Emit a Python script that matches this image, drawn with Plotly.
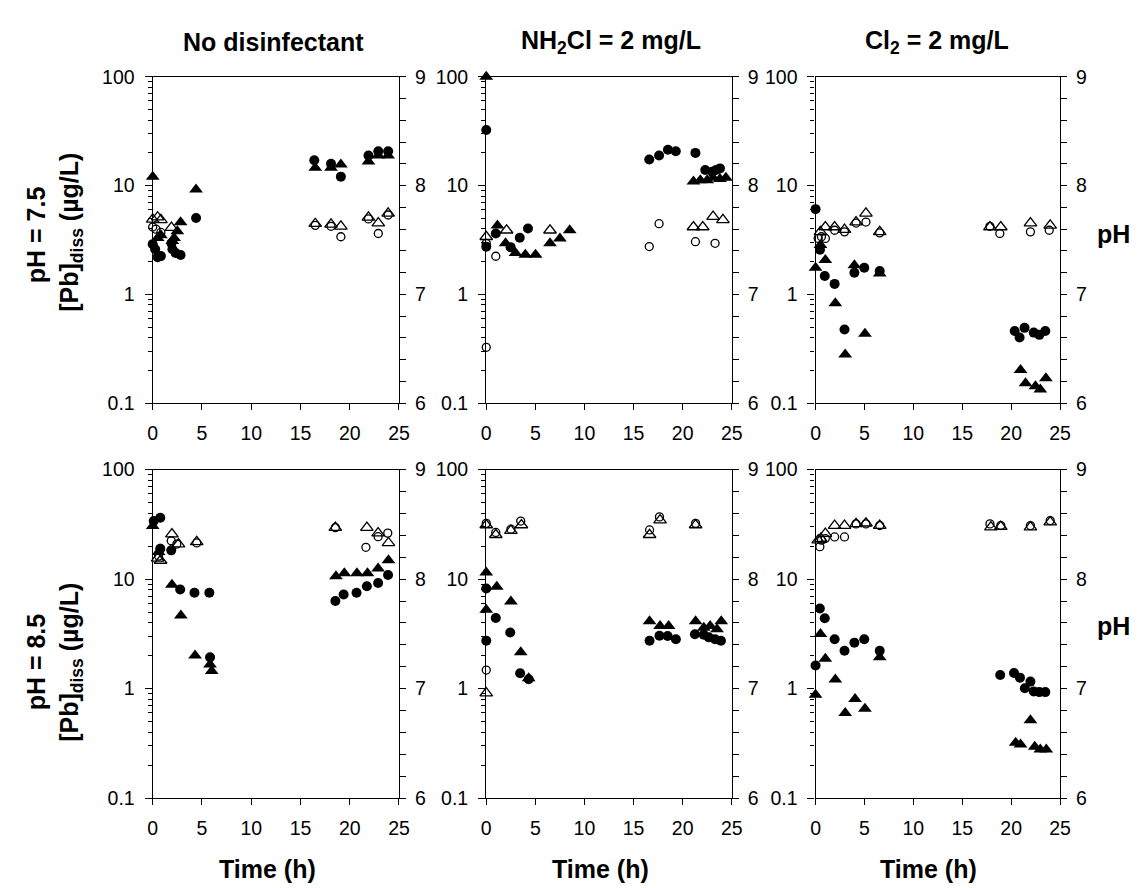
import plotly.graph_objects as go

W, H = 1138, 888

# ---------------- data ----------------
# Panel 1: No disinfectant, pH 7.5
p1_circ_t = [0, 0.25, 0.5, 0.83, 1.9, 2.0, 2.33, 2.83, 4.4, 16.4, 18.1, 19.1, 21.9, 22.9, 23.9]
p1_circ_pb = [2.9, 2.6, 2.2, 2.25, 2.95, 2.6, 2.4, 2.3, 5.05, 17.1, 15.9, 12.1, 18.9, 20.7, 20.7]
p1_tri_t = [0, 0.5, 0.83, 2.0, 2.17, 2.5, 2.83, 4.4, 16.5, 18.1, 19.1, 21.9, 22.9, 23.9]
p1_tri_pb = [12.1, 3.3, 3.5, 3.1, 3.3, 3.8, 4.6, 9.2, 14.6, 14.6, 15.6, 16.7, 18.9, 18.9]
p1_ocirc_t = [0, 0.33, 0.83, 16.5, 18.1, 19.1, 21.9, 22.9, 23.9]
p1_ocirc_ph = [7.62, 7.6, 7.57, 7.635, 7.626, 7.53, 7.694, 7.56, 7.73]
p1_otri_t = [0, 0.5, 0.83, 1.9, 16.5, 18.1, 19.1, 21.9, 22.9, 23.9]
p1_otri_ph = [7.69, 7.71, 7.685, 7.614, 7.65, 7.644, 7.626, 7.709, 7.655, 7.745]

# Panel 2: NH2Cl, pH 7.5
p2_circ_t = [0, 0, 0.97, 2.48, 3.41, 4.25, 16.6, 17.6, 18.5, 19.3, 21.3, 22.3, 23.0, 23.4, 23.8]
p2_circ_pb = [32.4, 2.75, 3.63, 2.72, 3.32, 4.03, 17.4, 18.9, 21.4, 20.7, 20.0, 13.9, 13.4, 13.9, 14.4]
p2_tri_t = [0, 1.14, 1.97, 2.98, 3.98, 5.02, 6.49, 7.5, 8.5, 21.1, 21.8, 22.5, 23.1, 23.8, 24.4]
p2_tri_pb = [100, 4.3, 2.95, 2.4, 2.32, 2.32, 2.95, 3.27, 3.9, 10.9, 11.2, 11.2, 11.8, 11.5, 11.8]
p2_ocirc_t = [0, 0, 0.97, 16.6, 17.6, 21.3, 23.3]
p2_ocirc_ph = [7.47, 6.514, 7.351, 7.44, 7.65, 7.485, 7.47]
p2_otri_t = [0, 2.07, 6.49, 21.1, 22.05, 23.1, 24.1]
p2_otri_ph = [7.53, 7.59, 7.59, 7.62, 7.62, 7.715, 7.685]

# Panel 3: Cl2, pH 7.5
p3_circ_t = [0, 0.45, 0.94, 1.95, 2.96, 3.97, 4.98, 6.56, 20.36, 20.86, 21.37, 22.31, 22.88, 23.49]
p3_circ_pb = [6.08, 2.57, 1.48, 1.25, 0.477, 1.58, 1.76, 1.64, 0.461, 0.402, 0.493, 0.446, 0.425, 0.461]
p3_tri_t = [0, 0.5, 1.0, 2.02, 3.03, 3.97, 5.05, 6.56, 20.96, 21.47, 22.48, 22.98, 23.55]
p3_tri_pb = [1.76, 2.85, 2.07, 0.83, 0.28, 1.85, 0.436, 1.56, 0.202, 0.153, 0.143, 0.134, 0.17]
p3_ocirc_t = [0.27, 0.6, 1.0, 1.95, 2.96, 4.14, 5.15, 6.56, 17.83, 18.84, 21.97, 23.89]
p3_ocirc_ph = [7.515, 7.53, 7.515, 7.59, 7.575, 7.656, 7.665, 7.566, 7.626, 7.56, 7.575, 7.59]
p3_otri_t = [0.5, 1.0, 1.95, 2.96, 4.14, 5.15, 6.56, 17.83, 18.94, 21.97, 23.99]
p3_otri_ph = [7.575, 7.62, 7.62, 7.596, 7.665, 7.745, 7.575, 7.62, 7.62, 7.655, 7.635]

# Panel 4: No disinfectant, pH 8.5
p4_circ_t = [0.1, 0.77, 0.77, 1.88, 2.79, 4.24, 5.75, 5.82, 18.54, 19.38, 20.69, 21.74, 22.88, 23.89]
p4_circ_pb = [33.9, 36.3, 18.9, 18.3, 8.03, 7.5, 7.5, 1.93, 6.3, 7.24, 7.5, 8.6, 9.2, 10.9]
p4_tri_t = [0, 0.6, 1.95, 2.86, 4.3, 5.82, 5.99, 18.6, 19.45, 20.73, 21.8, 22.88, 23.93]
p4_tri_pb = [30.6, 17.7, 8.9, 4.65, 2.01, 1.66, 1.45, 10.6, 11.3, 11.3, 11.3, 12.5, 14.9]
p4_ocirc_t = [0.6, 0.77, 1.88, 2.45, 4.47, 18.54, 21.64, 22.88, 23.86]
p4_ocirc_ph = [8.21, 8.28, 8.35, 8.32, 8.33, 8.47, 8.29, 8.387, 8.42]
p4_otri_t = [0.5, 0.8, 1.95, 2.62, 4.47, 18.54, 21.74, 22.88, 23.93]
p4_otri_ph = [8.19, 8.17, 8.41, 8.32, 8.34, 8.47, 8.47, 8.42, 8.33]

# Panel 5: NH2Cl, pH 8.5
p5_circ_t = [0, 0, 0.97, 2.44, 3.45, 4.32, 16.63, 17.64, 18.47, 19.31, 21.25, 22.15, 22.66, 23.3, 23.9]
p5_circ_pb = [8.2, 2.74, 4.42, 3.25, 1.38, 1.22, 2.74, 3.04, 3.03, 2.83, 3.14, 3.1, 2.94, 2.83, 2.74]
p5_tri_t = [0, 0, 1.07, 2.51, 3.51, 4.32, 16.63, 17.7, 18.57, 21.32, 22.15, 22.8, 23.5, 23.93]
p5_tri_pb = [11.5, 5.25, 8.5, 6.24, 2.15, 1.245, 4.13, 3.73, 3.73, 4.13, 3.6, 3.73, 3.49, 4.13]
p5_ocirc_t = [0, 0, 0.97, 2.51, 3.51, 16.63, 17.64, 21.32]
p5_ocirc_ph = [8.509, 7.17, 8.426, 8.455, 8.53, 8.449, 8.568, 8.509]
p5_otri_t = [0, 0, 0.97, 2.51, 3.58, 16.63, 17.7, 21.32]
p5_otri_ph = [8.494, 6.96, 8.405, 8.443, 8.494, 8.405, 8.539, 8.494]

# Panel 6: Cl2, pH 8.5
p6_circ_t = [0, 0.44, 0.94, 1.95, 2.96, 3.97, 4.98, 6.56, 18.88, 20.29, 20.9, 21.4, 21.97, 22.31, 22.88, 23.49]
p6_circ_pb = [1.63, 5.4, 4.4, 2.82, 2.22, 2.63, 2.82, 2.22, 1.33, 1.39, 1.26, 1.01, 1.16, 0.944, 0.93, 0.93]
p6_tri_t = [0, 0.5, 1.0, 2.02, 3.03, 4.04, 5.05, 6.56, 20.46, 20.96, 21.97, 22.41, 22.98, 23.59]
p6_tri_pb = [0.88, 3.16, 1.87, 1.21, 0.60, 0.806, 0.656, 1.93, 0.32, 0.309, 0.516, 0.295, 0.279, 0.279]
p6_ocirc_t = [0.44, 0.6, 1.0, 1.95, 2.96, 4.14, 5.15, 6.56, 17.83, 18.94, 21.97, 23.99]
p6_ocirc_ph = [8.296, 8.355, 8.37, 8.385, 8.385, 8.504, 8.504, 8.489, 8.504, 8.489, 8.489, 8.534]
p6_otri_t = [0.27, 0.54, 1.0, 1.95, 2.96, 4.14, 5.15, 6.56, 17.93, 18.94, 21.97, 23.99]
p6_otri_ph = [8.355, 8.37, 8.415, 8.489, 8.489, 8.504, 8.51, 8.489, 8.474, 8.48, 8.475, 8.52]

col_titles = ["No disinfectant", "NH<sub>2</sub>Cl = 2 mg/L", "Cl<sub>2</sub> = 2 mg/L"]
row_titles = ["pH = 7.5", "pH = 8.5"]
pb_title = "[Pb]<sub>diss</sub> (µg/L)"
x_title = "Time (h)"
ph_title = "pH"
x_ticks = [0, 5, 10, 15, 20, 25]
pb_ticks = [0.1, 1, 10, 100]
pb_ticktext = ["0.1", "1", "10", "100"]
pb_minor = [m * d for d in (0.1, 1, 10) for m in range(2, 10)]
ph_ticks = [6, 7, 8, 9]

panels = [
    (p1_circ_t, p1_circ_pb, p1_tri_t, p1_tri_pb, p1_ocirc_t, p1_ocirc_ph, p1_otri_t, p1_otri_ph),
    (p2_circ_t, p2_circ_pb, p2_tri_t, p2_tri_pb, p2_ocirc_t, p2_ocirc_ph, p2_otri_t, p2_otri_ph),
    (p3_circ_t, p3_circ_pb, p3_tri_t, p3_tri_pb, p3_ocirc_t, p3_ocirc_ph, p3_otri_t, p3_otri_ph),
    (p4_circ_t, p4_circ_pb, p4_tri_t, p4_tri_pb, p4_ocirc_t, p4_ocirc_ph, p4_otri_t, p4_otri_ph),
    (p5_circ_t, p5_circ_pb, p5_tri_t, p5_tri_pb, p5_ocirc_t, p5_ocirc_ph, p5_otri_t, p5_otri_ph),
    (p6_circ_t, p6_circ_pb, p6_tri_t, p6_tri_pb, p6_ocirc_t, p6_ocirc_ph, p6_otri_t, p6_otri_ph),
]

# ---------------- layout geometry (pixels) ----------------
FONT = "Liberation Sans, Arial, sans-serif"
col_px = [(141.7, 391.5), (480.0, 729.0), (814.0, 1062.0)]
row_px = [(59.3, 394.0), (462.0, 799.0)]


def px_x(p):
    return p / W


def px_y(p):
    return 1 - p / H


fig = go.Figure()
layout = dict(
    width=W, height=H, autosize=False,
    margin=dict(l=0, r=0, t=0, b=0),
    paper_bgcolor="white", plot_bgcolor="white",
    showlegend=False,
    font=dict(family=FONT, color="black", size=19.5),
)

tickfont = dict(family=FONT, size=19.5, color="black")
LW = 1.3

for i, data in enumerate(panels):
    r, c = divmod(i, 3)
    n = i + 1
    xa = "x" if n == 1 else f"x{n}"
    ya = "y" if n == 1 else f"y{n}"
    yb = f"y{n + 6}"
    xkey = "xaxis" if n == 1 else f"xaxis{n}"
    ykey = "yaxis" if n == 1 else f"yaxis{n}"
    y2key = f"yaxis{n + 6}"
    x0, x1 = col_px[c]
    yt, yb_px = row_px[r]
    layout[xkey] = dict(
        domain=[px_x(x0), px_x(x1)], anchor=ya, range=[0, 25],
        tickmode="array", tickvals=x_ticks, ticks="outside", ticklen=6, tickwidth=1,
        tickcolor="black", showline=True, linecolor="black", linewidth=LW, mirror=True,
        showgrid=False, zeroline=False, tickfont=tickfont, ticklabelstandoff=6,
    )
    layout[ykey] = dict(
        domain=[px_y(yb_px), px_y(yt)], anchor=xa, type="log", range=[-1, 2],
        tickmode="array", tickvals=pb_ticks, ticktext=pb_ticktext,
        ticks="outside", ticklen=7, tickwidth=1, tickcolor="black",
        minor=dict(tickmode="array", tickvals=pb_minor, ticks="outside", ticklen=4,
                   tickwidth=1, tickcolor="black", showgrid=False),
        showline=True, linecolor="black", linewidth=LW,
        showgrid=False, zeroline=False, tickfont=tickfont, ticklabelstandoff=6,
    )
    layout[y2key] = dict(
        overlaying=ya, anchor=xa, side="right", range=[6, 9],
        tickmode="array", tickvals=ph_ticks, ticks="outside", ticklen=6, tickwidth=1,
        tickcolor="black",
        minor=dict(dtick=0.2, tick0=6, ticks="outside", ticklen=6, tickwidth=1,
                   tickcolor="black", showgrid=False),
        showline=True, linecolor="black", linewidth=LW,
        showgrid=False, zeroline=False, tickfont=tickfont, ticklabelstandoff=5,
    )
    ct, cv, tt, tv, oct_, ocv, ott, otv = data
    fig.add_trace(go.Scatter(x=oct_, y=ocv, mode="markers", xaxis=xa, yaxis=yb,
                             cliponaxis=False,
                             marker=dict(symbol="circle-open", size=8, color="black",
                                         line=dict(width=1.3, color="black"))))
    fig.add_trace(go.Scatter(x=ott, y=otv, mode="markers", xaxis=xa, yaxis=yb,
                             cliponaxis=False,
                             marker=dict(symbol="triangle-up-open", size=11, color="black",
                                         line=dict(width=1.3, color="black"))))
    fig.add_trace(go.Scatter(x=ct, y=cv, mode="markers", xaxis=xa, yaxis=ya,
                             cliponaxis=False,
                             marker=dict(symbol="circle", size=10, color="black",
                                         line=dict(width=0))))
    fig.add_trace(go.Scatter(x=tt, y=tv, mode="markers", xaxis=xa, yaxis=ya,
                             cliponaxis=False,
                             marker=dict(symbol="triangle-up", size=12, color="black",
                                         line=dict(width=0))))

ann = []
bold = dict(family=FONT, size=25, color="black")
# column titles
for (cx, txt) in zip([264, 607, 937], col_titles):
    ann.append(dict(x=px_x(cx), y=px_y(24), xref="paper", yref="paper", text=f"<b>{txt}</b>",
                    showarrow=False, xanchor="center", yanchor="middle", font=bold))
# x titles
for cx in [258, 596, 928.5]:
    ann.append(dict(x=px_x(cx), y=px_y(872), xref="paper", yref="paper", text=f"<b>{x_title}</b>",
                    showarrow=False, xanchor="center", yanchor="middle", font=bold))
# row titles
for (cy1, cy2, txt) in [(221, 219, row_titles[0]), (659, 660, row_titles[1])]:
    ann.append(dict(x=px_x(23), y=px_y(cy1), xref="paper", yref="paper", text=f"<b>{txt}</b>",
                    showarrow=False, textangle=-90, xanchor="center", yanchor="middle", font=bold))
    ann.append(dict(x=px_x(58), y=px_y(cy2), xref="paper", yref="paper", text=f"<b>{pb_title}</b>",
                    showarrow=False, textangle=-90, xanchor="center", yanchor="middle", font=bold))
# pH labels right
for cy in [220, 622]:
    ann.append(dict(x=px_x(1116), y=px_y(cy), xref="paper", yref="paper", text=f"<b>{ph_title}</b>",
                    showarrow=False, xanchor="center", yanchor="middle", font=bold))

layout["annotations"] = ann
fig.update_layout(**layout)
fig.write_html("out.html")
